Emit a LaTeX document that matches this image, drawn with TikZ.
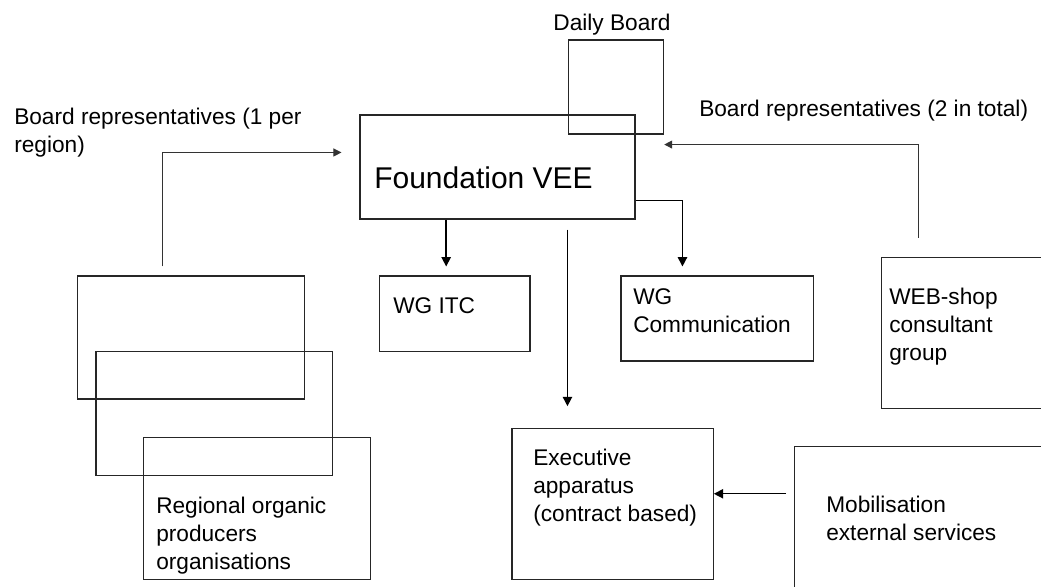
\documentclass[tikz,border=0pt]{standalone}
\usepackage{fontspec}
\setmainfont{Liberation Sans}
\usetikzlibrary{arrows.meta,calc,fit}

\begin{document}
\begin{tikzpicture}[x=0.75pt,y=-0.75pt,
  box/.style={draw=black!85, line width=0.8pt, inner sep=0pt},
  lbl/.style={font=\fontsize{17}{21}\selectfont, anchor=base west, inner sep=0pt, align=left},
  biglbl/.style={font=\fontsize{22.5}{26}\selectfont, anchor=base west, inner sep=0pt},
  link/.style={draw=black!80, line width=0.75pt, -{Triangle[length=6pt,width=6pt]}},
  feed/.style={draw=black, line width=1.1pt, -{Triangle[length=7pt,width=7pt]}},
]
\useasboundingbox (0,0) rectangle (1041,586);
\clip (0,0) rectangle (1041,586);
\fill[white] (0,0) rectangle (1041,586);

% boxes
\node[box, fit={(360,115) (635,219)}] (found) {};
\node[box, fit={(568.7,40) (663.7,134)}] (daily) {};
\node[box, fit={(379.7,276) (530,351.7)}] (itc) {};
\node[box, fit={(621,276) (813.3,361)}] (comm) {};
\node[box, fit={(881.7,257.3) (1070,408.3)}] (web) {};
\node[box, fit={(77.3,276) (304.3,399)}] (r1) {};
\node[box, fit={(96,351.7) (332.7,475.3)}] (r2) {};
\node[box, fit={(143.3,437.7) (370.3,579.7)}] (r3) {};
\node[box, fit={(512,428.3) (713.3,579.3)}] (exec) {};
\node[box, fit={(794.3,446.7) (1070,610)}] (mob) {};

% texts (multi-line labels are placed by the baseline of their last line)
\node[lbl, anchor=base] (dailytxt) at (612,30) {Daily Board};
\node[lbl] (leftrep) at (14,152) {Board representatives (1 per\\region)};
\node[lbl] (rightrep) at (699,116) {Board representatives (2 in total)};
\node[biglbl] (foundtxt) at (374,188) {Foundation VEE};
\node[lbl] (itctxt) at (393,313) {WG ITC};
\node[lbl] (commtxt) at (633,332) {WG\\Communication};
\node[lbl] (webtxt) at (889,360) {WEB-shop\\consultant\\group};
\node[lbl] (r3txt) at (156,569) {Regional organic\\producers\\organisations};
\node[lbl] (exectxt) at (533,521) {Executive\\apparatus\\(contract based)};
\node[lbl] (mobtxt) at (826,540) {Mobilisation\\external services};

% connectors
\coordinate (regout) at ($(r1.north west)+(86,-9)$);
\coordinate (regin) at ($(found.north west)+(-18,38)$);
\draw[link] (regout) |- (regin);

\coordinate (webout) at ($(web.north west)+(37.5,-19)$);
\coordinate (webin) at ($(daily.south east)+(0,10)$);
\draw[link] (webout) |- (webin);

\draw[feed] ($(found.south west)+(86.7,0)$) -- ($(itc.north west)+(67,-9)$);
\draw[feed] ($(found.south east)+(0,-19)$) -| ($(comm.north west)+(62,-9)$);
\draw[feed] ($(found.south west)+(208,10)$) -- ($(exec.north west)+(56,-21.6)$);

\coordinate (mobout) at ($(mob.north west)+(-7.6,47.6)$);
\draw[feed, line width=0.9pt] (mobout) -- (mobout -| exec.east);
\end{tikzpicture}
\end{document}
